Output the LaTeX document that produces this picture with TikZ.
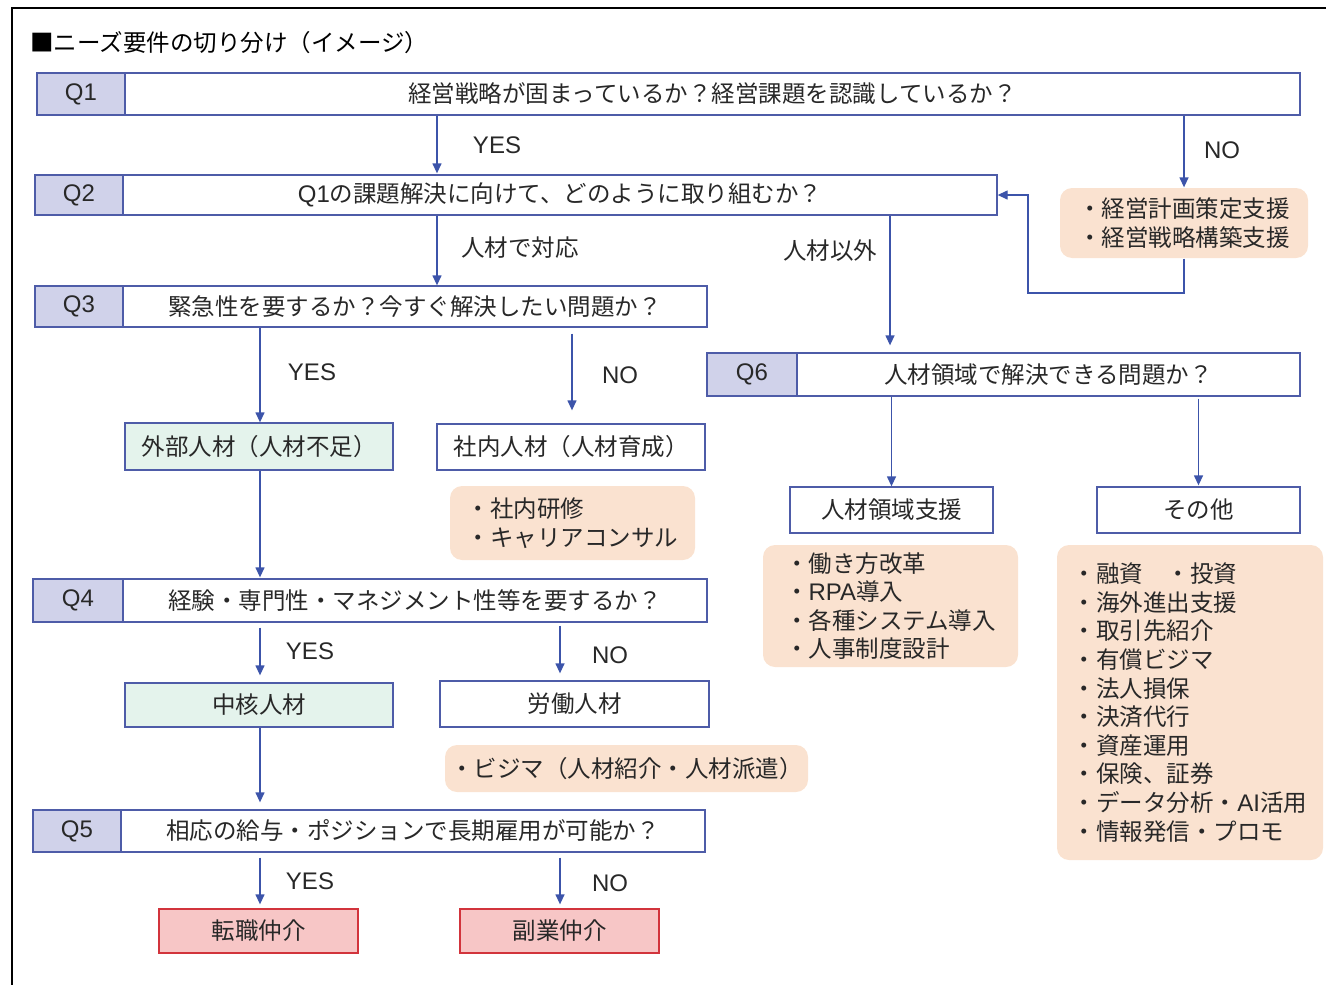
\documentclass[tikz,border=0pt]{standalone}
\usepackage{fontspec}
\setmainfont{Noto Sans CJK JP}
\newfontfamily\lat{Liberation Sans}
\usetikzlibrary{arrows.meta,calc}
\definecolor{qb}{RGB}{78,92,168}
\definecolor{qf}{RGB}{208,210,234}
\definecolor{ac}{RGB}{60,84,170}
\definecolor{gf}{RGB}{228,243,236}
\definecolor{of}{RGB}{250,226,208}
\definecolor{rf}{RGB}{247,198,198}
\definecolor{rb}{RGB}{210,52,60}
\definecolor{txt}{RGB}{40,40,40}
\newcommand\myfs{\fontsize{23.5pt}{28.6pt}\selectfont}
\newcommand\latx[1]{{\lat\fontsize{24pt}{28.6pt}\selectfont #1}}
\begin{document}
\begin{tikzpicture}[x=1pt,y=-1pt,
  base/.style={rectangle, inner sep=0pt, font=\myfs, text=txt, line width=1.3pt},
  qlab/.style={base, draw=qb, fill=qf},
  qmain/.style={base, draw=qb, fill=white},
  gbox/.style={base, draw=qb, fill=gf},
  wbox/.style={base, draw=qb, fill=white},
  rbox/.style={base, draw=rb, fill=rf},
  obox/.style={base, fill=of, rounded corners=12pt, align=left},
  lbl/.style={font=\myfs, text=txt, inner sep=0pt},
  arr/.style={draw=ac, line width=1.3pt, -{Triangle[length=10pt,width=9pt]}}
]
\useasboundingbox (0,0) rectangle (1326,985);
% outer frame
\draw[line width=2.5pt, black] (12,985) -- (12,8) -- (1326,8);
% title
\node[lbl, anchor=west, text=black] (title) at (30,43) {■ニーズ要件の切り分け（イメージ）};

% Q rows
\node[qlab, minimum width=88pt, minimum height=42pt] (q1l) at (81,94) {\latx{Q1}};
\node[qmain, minimum width=1175pt, minimum height=42pt] (q1m) at (712.5,94) {経営戦略が固まっているか？経営課題を認識しているか？};
\node[qlab, minimum width=88pt, minimum height=40pt] (q2l) at (79,195) {\latx{Q2}};
\node[qmain, minimum width=874pt, minimum height=40pt] (q2m) at (560,195) {\latx{Q1}の課題解決に向けて、どのように取り組むか？};
\node[qlab, minimum width=88pt, minimum height=41pt] (q3l) at (79,306.5) {\latx{Q3}};
\node[qmain, minimum width=584pt, minimum height=41pt] (q3m) at (415,306.5) {緊急性を要するか？今すぐ解決したい問題か？};
\node[qlab, minimum width=90pt, minimum height=43pt] (q4l) at (78,600.5) {\latx{Q4}};
\node[qmain, minimum width=584pt, minimum height=43pt] (q4m) at (415,600.5) {経験・専門性・マネジメント性等を要するか？};
\node[qlab, minimum width=88pt, minimum height=42pt] (q5l) at (77,831) {\latx{Q5}};
\node[qmain, minimum width=584pt, minimum height=42pt] (q5m) at (413,831) {相応の給与・ポジションで長期雇用が可能か？};
\node[qlab, minimum width=90pt, minimum height=43pt] (q6l) at (752,374.5) {\latx{Q6}};
\node[qmain, minimum width=503pt, minimum height=43pt] (q6m) at (1048.5,374.5) {人材領域で解決できる問題か？};

% result boxes
\node[gbox, minimum width=268pt, minimum height=47pt] (ext) at (259,446.5) {外部人材（人材不足）};
\node[wbox, minimum width=268pt, minimum height=46pt] (int) at (571,447) {社内人材（人材育成）};
\node[gbox, minimum width=268pt, minimum height=44pt] (core) at (259,705) {中核人材};
\node[wbox, minimum width=269pt, minimum height=46pt] (labor) at (574.5,704) {労働人材};
\node[rbox, minimum width=199pt, minimum height=44pt] (tj) at (258.5,931) {転職仲介};
\node[rbox, minimum width=199pt, minimum height=44pt] (fg) at (559.5,931) {副業仲介};
\node[wbox, minimum width=203pt, minimum height=46pt] (jr) at (891.5,510) {人材領域支援};
\node[wbox, minimum width=203pt, minimum height=46pt] (ot) at (1198.5,510) {その他};

% orange boxes
\node[obox, minimum width=248pt, minimum height=70pt] (ob1) at (1184,223) {・経営計画策定支援\\・経営戦略構築支援};
\node[obox, minimum width=245pt, minimum height=74pt] (ob2) at (572.5,523) {・社内研修\\・キャリアコンサル};
\node[obox, minimum width=363pt, minimum height=47pt] (ob3) at (626.5,768.5) {・ビジマ（人材紹介・人材派遣）};
\node[obox, minimum width=255pt, minimum height=122pt] (ob4) at (890.5,606) {・働き方改革\\・\latx{RPA}導入\\・各種システム導入\\・人事制度設計};
\node[obox, minimum width=266pt, minimum height=315pt] (ob5) at (1190,702.5) {・融資　・投資\\・海外進出支援\\・取引先紹介\\・有償ビジマ\\・法人損保\\・決済代行\\・資産運用\\・保険、証券\\・データ分析・\latx{AI}活用\\・情報発信・プロモ};

% column coordinates
\coordinate (xa) at (437,0);
\coordinate (xb) at (260,0);
\coordinate (xc) at (572,0);
\coordinate (xd) at (560,0);
\coordinate (xe) at (890,0);
\coordinate (fb) at (1028,293);

% arrows
\draw[arr, shorten >=1pt] (q1m.south -| xa) -- (q2m.north -| xa);
\draw[arr] (q1m.south -| ob1.north) -- (ob1.north);
\draw[arr] (ob1.south) |- (fb) |- (q2m.east);
\draw[arr] (q2m.south -| xa) -- (q3m.north -| xa);
\draw[arr, shorten >=7pt] (q2m.south -| xe) -- (q6m.north -| xe);
\draw[arr] (q3m.south -| xb) -- (ext.north -| xb);
\draw[arr, shorten <=6pt, shorten >=13pt] (q3m.south -| xc) -- (int.north -| xc);
\draw[arr, shorten >=1pt] (ext.south -| xb) -- (q4m.north -| xb);
\draw[arr, shorten <=5pt, shorten >=7pt] (q4m.south -| xb) -- (core.north -| xb);
\draw[arr, shorten <=3pt, shorten >=7pt] (q4m.south -| xd) -- (labor.north -| xd);
\draw[arr, shorten >=7pt] (core.south -| xb) -- (q5m.north -| xb);
\draw[arr, shorten <=5pt, shorten >=4pt] (q5m.south -| xb) -- (tj.north -| xb);
\draw[arr, shorten <=5pt, shorten >=4pt] (q5m.south -| xd) -- (fg.north -| xd);
\draw[arr] (q6m.south -| jr.north) -- (jr.north);
\draw[arr, shorten <=2pt, shorten >=1pt] (q6m.south -| ot.north) -- (ot.north);

% labels
\node[lbl] (y1) at (497,145) {\latx{YES}};
\node[lbl] (n1) at (1222,150) {\latx{NO}};
\node[lbl] (l2a) at (520,248) {人材で対応};
\node[lbl] (l2b) at (830,251) {人材以外};
\node[lbl] (y3) at (312,372) {\latx{YES}};
\node[lbl] (n3) at (620,375) {\latx{NO}};
\node[lbl] (y4) at (310,651) {\latx{YES}};
\node[lbl] (n4) at (610,655) {\latx{NO}};
\node[lbl] (y5) at (310,881) {\latx{YES}};
\node[lbl] (n5) at (610,883) {\latx{NO}};
\end{tikzpicture}
\end{document}
